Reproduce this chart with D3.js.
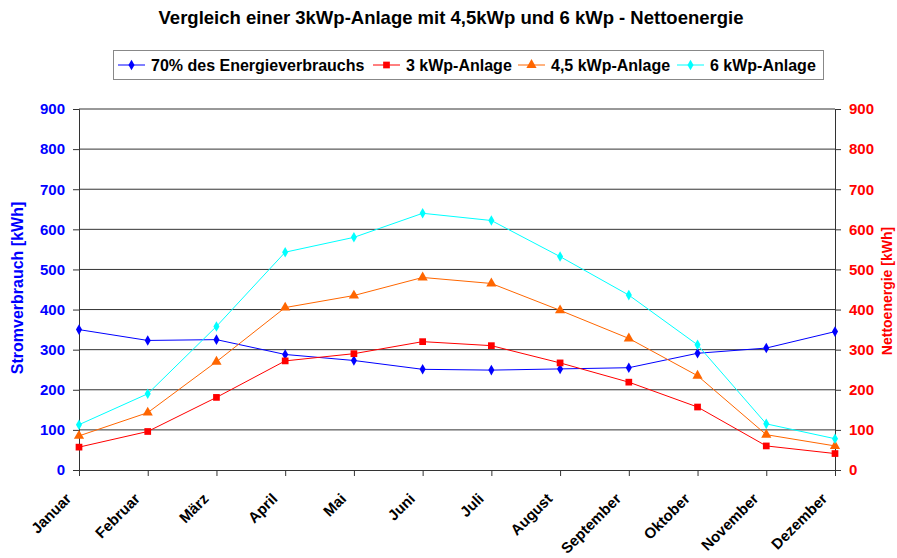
<!DOCTYPE html>
<html>
<head>
<meta charset="UTF-8">
<title>Nettoenergie</title>
<script src="https://cdn.jsdelivr.net/npm/d3@7"></script>
<style>
  body { margin: 0; background: #fff; }
  text { font-family: "Liberation Sans", Arial, sans-serif; font-weight: bold; }
</style>
</head>
<body>
<svg id="chart"></svg>
<script>
var months = ["Januar", "Februar", "März", "April", "Mai", "Juni", "Juli", "August", "September", "Oktober", "November", "Dezember"];
var verbrauch70 = [350, 323, 325, 288, 273, 251, 249, 252, 255, 291, 304, 345];
var anlage3 = [57, 96, 181, 272, 290, 320, 310, 267, 219, 157, 60, 41];
var anlage45 = [85, 143, 270, 405, 435, 480, 465, 398, 328, 235, 88, 60];
var anlage6 = [113, 190, 358, 543, 580, 640, 622, 532, 436, 312, 115, 78];
var yTicks = [0, 100, 200, 300, 400, 500, 600, 700, 800, 900];

var series = [
  {name: "70% des Energieverbrauchs", values: verbrauch70, color: "#0000ff", sym: d3.symbolDiamond, size: 32},
  {name: "3 kWp-Anlage", values: anlage3, color: "#ff0000", sym: d3.symbolSquare, size: 45},
  {name: "4,5 kWp-Anlage", values: anlage45, color: "#ff6600", sym: d3.symbolTriangle, size: 45},
  {name: "6 kWp-Anlage", values: anlage6, color: "#00ffff", sym: d3.symbolDiamond, size: 32}
];

var W = 897, H = 558;
var svg = d3.select("#chart").attr("width", W).attr("height", H);

var x = d3.scalePoint().domain(months).range([79, 835]);
var y = d3.scaleLinear().domain([0, 900]).range([470, 109]);

// title
svg.append("text").attr("x", 451).attr("y", 24).attr("text-anchor", "middle")
  .style("font-size", "18.5px").text("Vergleich einer 3kWp-Anlage mit 4,5kWp und 6 kWp - Nettoenergie");

// gridlines
svg.append("g").selectAll("line").data(yTicks.slice(1)).enter().append("line")
  .attr("x1", 79).attr("x2", 835)
  .attr("y1", function (d) { return y(d); }).attr("y2", function (d) { return y(d); })
  .attr("stroke", "#333").attr("stroke-width", 1);

// left axis
var left = svg.append("g").attr("transform", "translate(79,0)")
  .call(d3.axisLeft(y).tickValues(yTicks).tickSize(6).tickPadding(8));
left.selectAll("text").attr("fill", "#0000ff").style("font-size", "15px");

// right axis
var right = svg.append("g").attr("transform", "translate(835,0)")
  .call(d3.axisRight(y).tickValues(yTicks).tickSize(6).tickPadding(8));
right.selectAll("text").attr("fill", "#ff0000").style("font-size", "15px");

// bottom axis
var bottom = svg.append("g").attr("transform", "translate(0,470)")
  .call(d3.axisBottom(x).tickSize(6).tickSizeOuter(0));
bottom.selectAll("text").attr("fill", "#000").style("font-size", "15px")
  .attr("x", 0).attr("y", 0).attr("text-anchor", "end").attr("dy", "0.35em")
  .attr("transform", "translate(-11,26) rotate(-45)");

[left, right, bottom].forEach(function (g) {
  g.select(".domain").attr("stroke", "#333");
  g.selectAll(".tick line").attr("stroke", "#333");
});

// axis titles
svg.append("text").attr("transform", "translate(23,288) rotate(-90)")
  .attr("text-anchor", "middle").attr("fill", "#0000ff").style("font-size", "16px")
  .text("Stromverbrauch [kWh]");
svg.append("text").attr("transform", "translate(892,291) rotate(-90)")
  .attr("text-anchor", "middle").attr("fill", "#ff0000").style("font-size", "14px")
  .text("Nettoenergie [kWh]");

// lines and markers
var line = d3.line()
  .x(function (d, i) { return x(months[i]); })
  .y(function (d) { return y(d); });

series.forEach(function (s) {
  svg.append("path").datum(s.values).attr("d", line)
    .attr("fill", "none").attr("stroke", s.color).attr("stroke-width", 1);
  svg.append("g").selectAll("path").data(s.values).enter().append("path")
    .attr("d", d3.symbol().type(s.sym).size(s.size))
    .attr("transform", function (d, i) { return "translate(" + x(months[i]) + "," + y(d) + ")"; })
    .attr("fill", s.color);
});

// legend
var lg = svg.append("g");
lg.append("rect").attr("x", 113.5).attr("y", 50.5).attr("width", 710).attr("height", 29)
  .attr("fill", "#fff").attr("stroke", "#888").attr("stroke-width", 1);
var legendX = [118, 373, 518, 677];
series.forEach(function (s, i) {
  var g = lg.append("g").attr("transform", "translate(" + legendX[i] + ",65)");
  g.append("line").attr("x1", 0).attr("x2", 27).attr("stroke", s.color);
  g.append("path").attr("d", d3.symbol().type(s.sym).size(s.size))
    .attr("transform", "translate(13.5,0)").attr("fill", s.color);
  g.append("text").attr("x", 33).attr("y", 6).style("font-size", "16px").text(s.name);
});
</script>
</body>
</html>
